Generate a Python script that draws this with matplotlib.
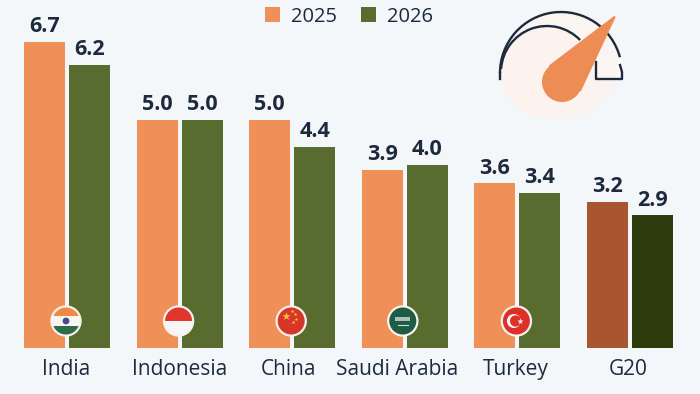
import numpy as np
from matplotlib import pyplot as plt
from matplotlib.patches import Circle, Rectangle, Arc, Polygon

# === Data ===
countries = ["India", "Indonesia", "China", "Saudi Arabia", "Turkey", "G20"]
series_names = ["2025", "2026"]
values_2025 = [6.7, 5.0, 5.0, 3.9, 3.6, 3.2]
values_2026 = [6.2, 5.0, 4.4, 4.0, 3.4, 2.9]
colors_2025 = ["#ef9059"] * 5 + ["#a9552f"]
colors_2026 = ["#586c30"] * 5 + ["#2d3c0d"]
label_nudge = [-1, 0, -4, -8, -2, -2]  # labels are not quite centred in the original, px

BG = "#f4f7fa"
INK = "#1c2a3c"
plt.rcParams['font.family'] = ['Open Sans', 'DejaVu Sans']

fig = plt.figure(figsize=(7, 3.94), dpi=100, facecolor=BG)

# main axes fill the figure, x in groups, y in growth %
ax = fig.add_axes([0, 0, 1, 1], facecolor="none")
group_px = 112.6
px_per_unit = 45.7
ax.set_xlim(-67 / group_px, (700 - 67) / group_px)
ax.set_ylim(-46 / px_per_unit, 348 / px_per_unit)
ax.axis("off")

x = np.arange(len(countries))
width = 41 / group_px
offset = 22.5 / group_px
bars_a = ax.bar(x - offset, values_2025, width, color=colors_2025, label=series_names[0])
bars_b = ax.bar(x + offset, values_2026, width, color=colors_2026, label=series_names[1])

for bars, vals in ((bars_a, values_2025), (bars_b, values_2026)):
    for b, v in zip(bars, vals):
        ax.annotate(f"{v:.1f}", (b.get_x() + b.get_width() / 2, v), xytext=(0, 3.5),
                    textcoords="offset points", ha="center", va="bottom",
                    fontsize=15.5, fontweight="bold", color=INK)

for i, name in enumerate(countries):
    ax.annotate(name, (i, 0), xytext=(label_nudge[i] * 0.72, -15.5), textcoords="offset points",
                ha="center", va="center", fontsize=15, color=INK)

leg = ax.legend(handles=[bars_a[0], bars_b[0]], labels=series_names, ncol=2, frameon=False,
                loc="center", bbox_to_anchor=(0.4985, 1 - 16.5 / 394), fontsize=14.5,
                handlelength=0.78, handleheight=0.78, handletextpad=0.55, columnspacing=1.15,
                labelcolor=INK)

# === Overlay in pixel coordinates for flags and gauge ===
ov = fig.add_axes([0, 0, 1, 1], facecolor="none")
ov.set_xlim(0, 700)
ov.set_ylim(394, 0)
ov.axis("off")


def flag_base(cx, cy=321, r=13.5):
    ov.add_patch(Circle((cx, cy), 15, color="#f6f3ec", zorder=3))
    clip = Circle((cx, cy), r, transform=ov.transData)
    return clip


def clipped(patch, clip):
    patch.set_zorder(4)
    ov.add_patch(patch)
    patch.set_clip_path(clip)
    return patch


centers = [67 + group_px * i for i in range(5)]

# India
cx = centers[0] - 1
c = flag_base(cx)
clipped(Rectangle((cx - 15, 307), 30, 9, color="#ee8a45", lw=0), c)
clipped(Rectangle((cx - 15, 316), 30, 10, color="#f8f6f2", lw=0), c)
clipped(Rectangle((cx - 15, 326), 30, 10, color="#2f6b46", lw=0), c)
clipped(Circle((cx, 321), 3.4, color="#4a4a8c", lw=0), c)

# Indonesia
cx = centers[1] - 1
c = flag_base(cx)
clipped(Rectangle((cx - 15, 307), 30, 14, color="#e2352b", lw=0), c)
clipped(Rectangle((cx - 15, 321), 30, 15, color="#f5f6f7", lw=0), c)

# China
cx = centers[2] - 1
c = flag_base(cx)
clipped(Rectangle((cx - 15, 306), 30, 30, color="#d9362a", lw=0), c)
ov.scatter([cx - 5], [316], marker="*", s=38, color="#f6c23c", lw=0, zorder=5)
ov.scatter([cx + 1, cx + 4, cx + 4.5, cx + 1.5], [311, 314, 318.5, 322], marker="*", s=8,
           color="#f6c23c", lw=0, zorder=5)

# Saudi Arabia
cx = centers[3] - 2
c = flag_base(cx)
clipped(Rectangle((cx - 15, 306), 30, 30, color="#1f5c45", lw=0), c)
clipped(Rectangle((cx - 7.5, 317), 15, 4, color="#a9c4b6", lw=0), c)
ov.plot([cx - 5, cx + 5], [325, 325], color="#cfe0d6", lw=0.8, zorder=5)

# Turkey
cx = centers[4] - 1
c = flag_base(cx)
clipped(Rectangle((cx - 15, 306), 30, 30, color="#dc3028", lw=0), c)
ov.add_patch(Circle((cx - 2.5, 321), 7, color="#f8f6f2", lw=0, zorder=5))
ov.add_patch(Circle((cx - 0.8, 321), 5.6, color="#dc3028", lw=0, zorder=6))
ov.scatter([cx + 3.5], [321], marker="*", s=22, color="#f8f6f2", lw=0, zorder=7)

# === Gauge ===
ov.add_patch(Circle((561, 73), 61, color="#fbfcfc", lw=0, zorder=1))
ov.add_patch(Rectangle((596, 60), 26, 19, color="#fbfcfc", lw=0, zorder=1))
ov.add_patch(Rectangle((500, 79), 130, 60, color=BG, lw=0, zorder=1.2))
ov.add_patch(Circle((547, 72), 46, color="#fcf3ee", lw=0, zorder=1.4))
ov.add_patch(Circle((562, 64), 56, color="#fcf3ee", lw=0, zorder=1.4, alpha=0.7))
ov.add_patch(Arc((561, 73), 122, 122, theta1=180, theta2=345, color=INK, lw=1.7, zorder=2))
ov.add_patch(Arc((547, 72), 92, 92, theta1=184, theta2=316, color=INK, lw=1.7, zorder=2))
ov.plot([500, 500], [73, 79], color=INK, lw=1.7, zorder=2)
ov.plot([620, 622, 622, 596, 596], [65, 72, 79, 79, 62], color=INK, lw=1.7, zorder=2)

tip = np.array([614.5, 17.0])
base = np.array([562.0, 82.0])
r = 20.0
d = tip - base
ang = np.arctan2(d[1], d[0])
spread = np.arccos(r / np.hypot(*d))
needle_col = "#ee8c55"
p1 = base + r * np.array([np.cos(ang + spread), np.sin(ang + spread)])
p2 = base + r * np.array([np.cos(ang - spread), np.sin(ang - spread)])
ov.add_patch(Circle(base, r, color=needle_col, lw=0, zorder=6))
ov.add_patch(Polygon([p1, tip, p2], closed=True, facecolor=needle_col, edgecolor=needle_col,
                     lw=1.5, joinstyle="round", zorder=6))

fig.savefig("out.png", dpi=100, facecolor=BG)
